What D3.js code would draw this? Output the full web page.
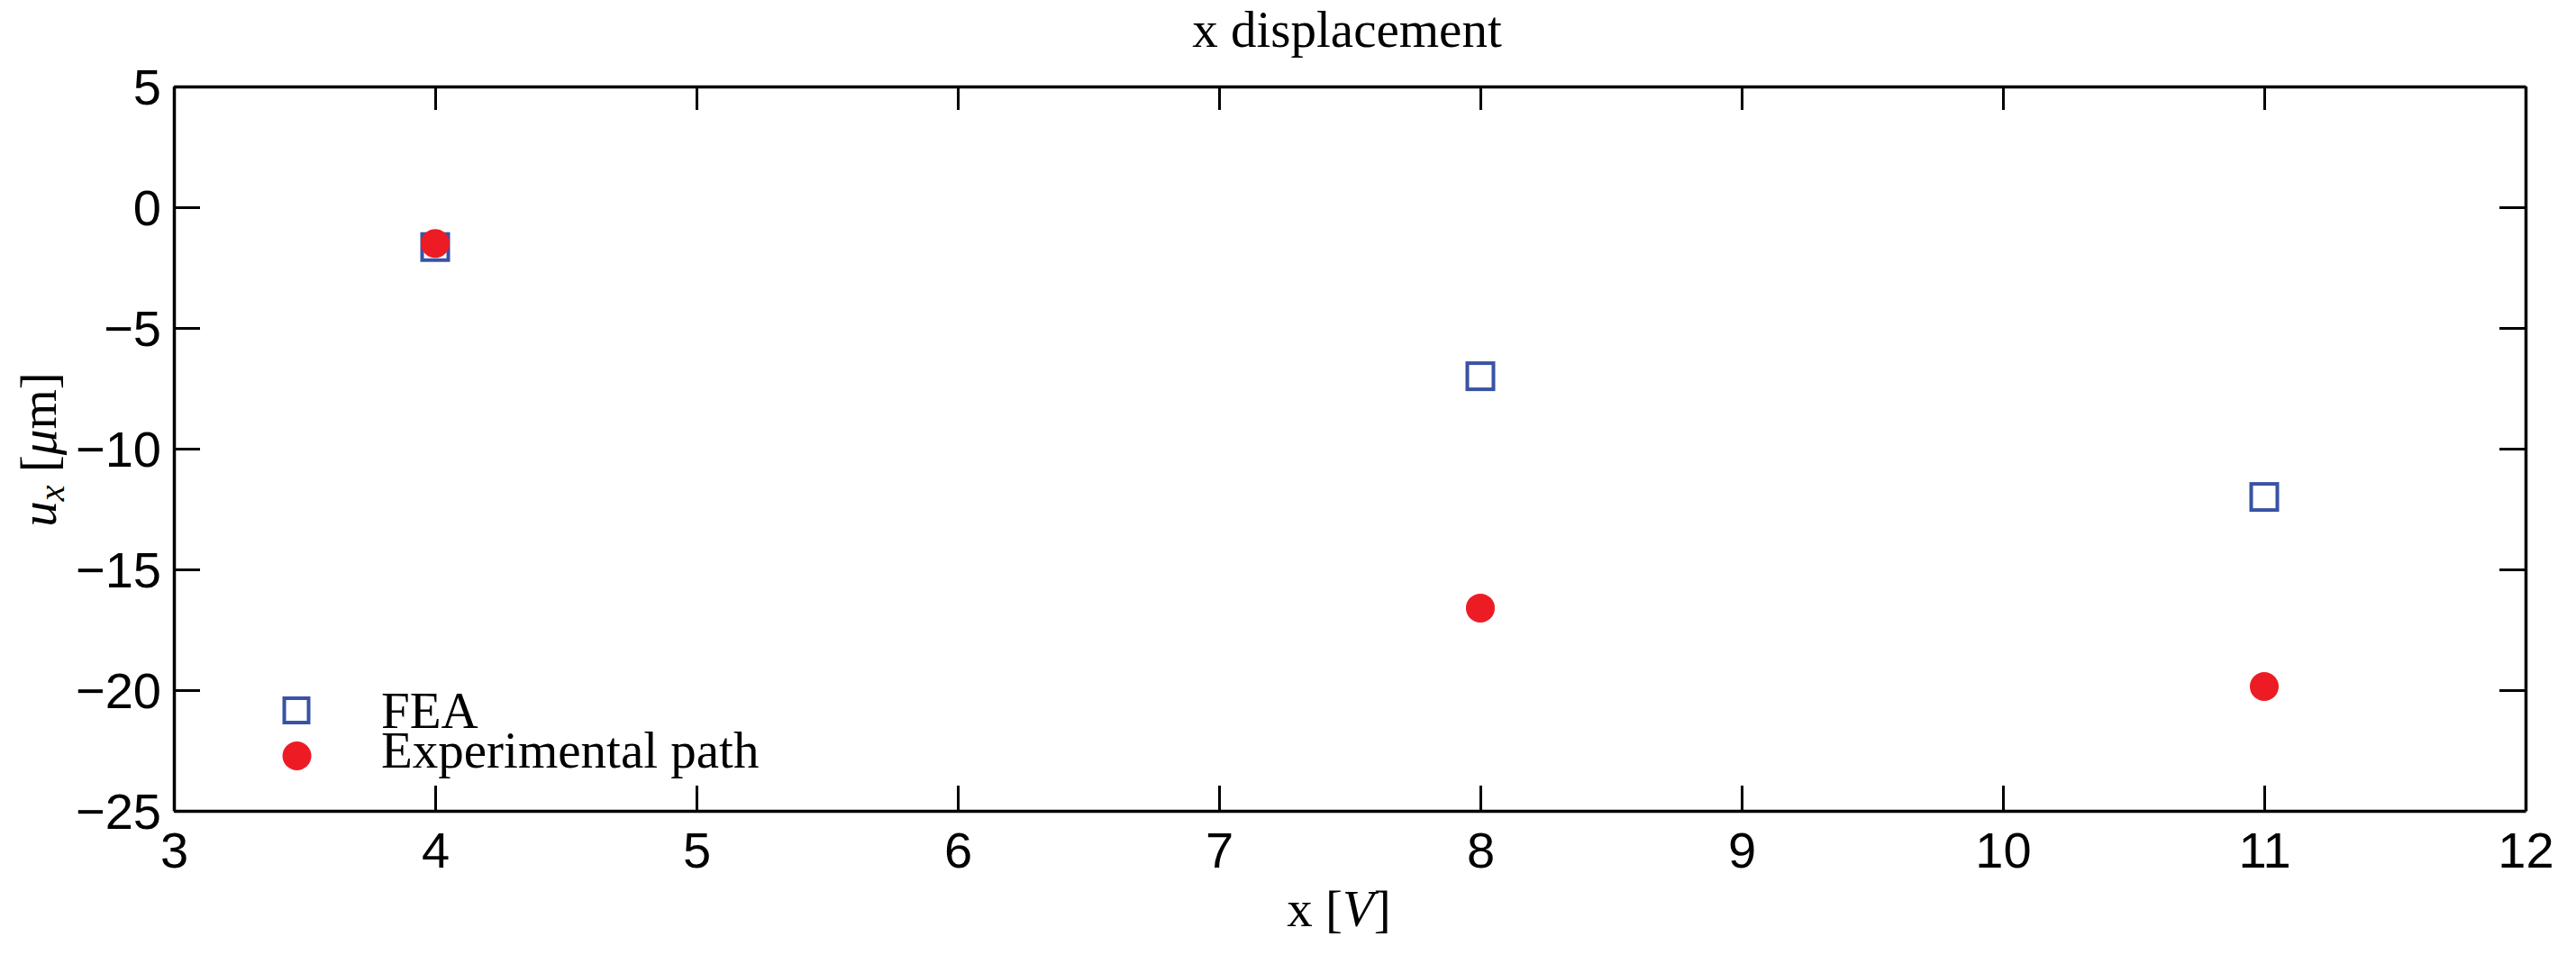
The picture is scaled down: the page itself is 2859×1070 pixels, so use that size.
<!DOCTYPE html>
<html>
<head>
<meta charset="utf-8">
<title>x displacement</title>
<script src="https://cdnjs.cloudflare.com/ajax/libs/d3/7.8.5/d3.min.js"></script>
<style>
body { margin: 0; background: #fff; }
.tick text { font-family: "Liberation Sans", Arial, sans-serif; font-size: 56px; fill: #000; }
.serif { font-family: "Liberation Serif", "Times New Roman", serif; font-size: 57px; fill: #000; }
</style>
</head>
<body>
<svg id="chart" width="2859" height="1070"></svg>
<script>
// data
var voltages = [4, 8, 11];
var feaDisp = [-1.65, -7, -12];
var expDisp = [-1.5, -16.6, -19.85];
var xTicks = [3, 4, 5, 6, 7, 8, 9, 10, 11, 12];
var yTicks = [5, 0, -5, -10, -15, -20, -25];
var seriesNames = ["FEA", "Experimental path"];

var W = 2859, H = 1070;
var margin = {top: 96, right: 56, bottom: 170, left: 193};
var w = W - margin.left - margin.right,
    h = H - margin.top - margin.bottom;

var blue = "#3953a4", red = "#ed1c24";

var svg = d3.select("#chart");
var g = svg.append("g").attr("transform", "translate(" + margin.left + "," + margin.top + ")");

var x = d3.scaleLinear().domain([3, 12]).range([0, w]);
var y = d3.scaleLinear().domain([-25, 5]).range([h, 0]);

var fmt = function(d) { return d < 0 ? "\u2212" + Math.abs(d) : String(d); };

// axes, ticks pointing inward on all four sides
var xb = g.append("g").attr("transform", "translate(0," + h + ")")
  .call(d3.axisBottom(x).tickValues(xTicks).tickFormat(fmt).tickSize(-28).tickSizeOuter(0).tickPadding(23));
var xt = g.append("g")
  .call(d3.axisTop(x).tickValues(xTicks).tickFormat("").tickSize(-26).tickSizeOuter(0));
var yl = g.append("g")
  .call(d3.axisLeft(y).tickValues(yTicks).tickFormat(fmt).tickSize(-29).tickSizeOuter(0).tickPadding(14));
var yr = g.append("g").attr("transform", "translate(" + w + ",0)")
  .call(d3.axisRight(y).tickValues(yTicks).tickFormat("").tickSize(-29).tickSizeOuter(0));

[xb, xt, yl, yr].forEach(function(a) {
  a.select(".domain").attr("stroke", "#000").attr("stroke-width", 3.5);
  a.selectAll(".tick line").attr("stroke", "#000").attr("stroke-width", 3);
});
yl.selectAll(".tick text").attr("dy", "0.34em");

// FEA squares
var sq = 29;
g.selectAll("rect.fea")
  .data(voltages)
  .enter().append("rect")
  .attr("class", "fea")
  .attr("x", function(d) { return x(d) - sq / 2; })
  .attr("y", function(d, i) { return y(feaDisp[i]) - sq / 2; })
  .attr("width", sq).attr("height", sq)
  .attr("fill", "none").attr("stroke", blue).attr("stroke-width", 4);

// experimental circles
g.selectAll("circle.exp")
  .data(voltages)
  .enter().append("circle")
  .attr("class", "exp")
  .attr("cx", function(d) { return x(d); })
  .attr("cy", function(d, i) { return y(expDisp[i]); })
  .attr("r", 16)
  .attr("fill", red);

// title
svg.append("text").attr("class", "serif")
  .attr("x", 1495).attr("y", 52)
  .attr("text-anchor", "middle")
  .text("x displacement");

// x label
var xl = svg.append("text").attr("class", "serif")
  .attr("x", 1486).attr("y", 1028)
  .attr("text-anchor", "middle");
xl.append("tspan").text("x [");
xl.append("tspan").attr("font-style", "italic").text("V");
xl.append("tspan").text("]");

// y label
var ylab = svg.append("text").attr("class", "serif")
  .attr("transform", "translate(62,499) rotate(-90)")
  .attr("text-anchor", "middle");
ylab.append("tspan").attr("font-style", "italic").text("u");
ylab.append("tspan").attr("font-style", "italic").attr("font-size", 40).attr("dy", 9).text("x");
ylab.append("tspan").attr("dy", -9).text(" [");
ylab.append("tspan").attr("font-style", "italic").text("\u03bc");
ylab.append("tspan").text("m]");

// legend
var leg = svg.append("g");
leg.append("rect")
  .attr("x", 329 - 13.5).attr("y", 788.5 - 13.5)
  .attr("width", 27).attr("height", 27)
  .attr("fill", "none").attr("stroke", blue).attr("stroke-width", 4);
leg.append("circle").attr("cx", 329.5).attr("cy", 839).attr("r", 16).attr("fill", red);
leg.selectAll("text")
  .data(seriesNames)
  .enter().append("text").attr("class", "serif")
  .attr("x", 423)
  .attr("y", function(d, i) { return 808 + i * 44; })
  .text(function(d) { return d; });
</script>
</body>
</html>
